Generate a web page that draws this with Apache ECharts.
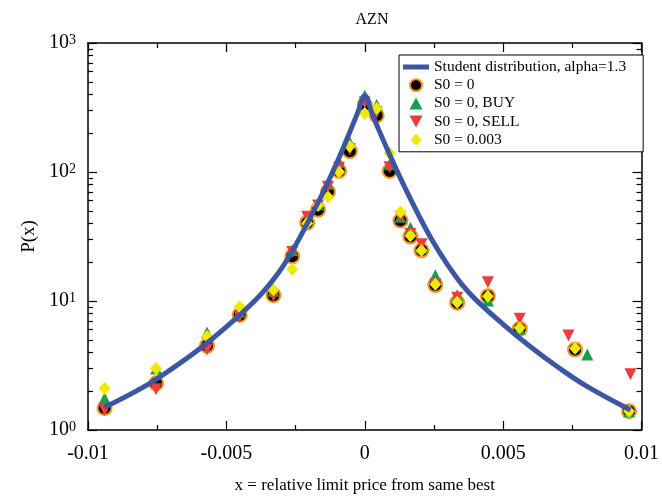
<!DOCTYPE html>
<html>
<head>
<meta charset="utf-8">
<script src="https://cdn.jsdelivr.net/npm/echarts@6/dist/echarts.min.js"></script>
<style>
  html, body { margin: 0; padding: 0; background: #fff; }
  #chart { width: 662px; height: 499px; }
</style>
</head>
<body>
<div id="chart"></div>
<script type="text/javascript">
    // Student distribution curve
    var curveX = [-0.0094, -0.008, -0.007, -0.006, -0.005, -0.004, -0.0035, -0.003, -0.0025, -0.002, -0.0015, -0.001, -0.0005, -0.00025, 0,
                  0.00025, 0.0005, 0.001, 0.0015, 0.002, 0.0025, 0.003, 0.0035, 0.004, 0.005, 0.006, 0.007, 0.008, 0.0096];
    var curveY = [1.5, 2.15, 2.95, 4.2, 6.3, 9.9, 13.0, 18, 27, 43, 70, 119, 214, 290, 390,
                  290, 214, 122, 72, 44, 28, 19, 13.5, 10.3, 6.6, 4.4, 3.05, 2.2, 1.43];

    // S0 = 0
    var allX  = [-0.0094, -0.00754, -0.0057, -0.00452, -0.0033, -0.00262, -0.00208, -0.00169, -0.00133, -0.00093, -0.00054, 0,
                 0.00043, 0.0009, 0.00129, 0.00165, 0.00205, 0.00255, 0.00334, 0.00445, 0.0056, 0.0076, 0.00955];
    var allY  = [1.48, 2.3, 4.5, 7.8, 11.1, 22.2, 40.5, 51, 70, 102, 145, 332,
                 275, 102, 42, 31.6, 24.7, 13.3, 9.7, 10.9, 6.1, 4.2, 1.40];
    // S0 = 0, BUY
    var buyX  = [-0.0094, -0.00754, -0.0057, -0.00452, -0.0033, -0.00262, -0.00208, -0.00169, -0.00133, -0.00093, -0.00054, 0,
                 0.00043, 0.0009, 0.00129, 0.00165, 0.00205, 0.00255, 0.00334, 0.00445, 0.0056, 0.00804, 0.00955];
    var buyY  = [1.76, 3.0, 5.7, 8.3, 12, 24.7, 43, 56, 81, 120, 170, 390,
                 330, 115, 45, 37, 26, 15.8, 11.1, 10.1, 6.1, 3.85, 1.4];
    // S0 = 0, SELL
    var sellX = [-0.0094, -0.00754, -0.0057, -0.00452, -0.0033, -0.00262, -0.00208, -0.00169, -0.00133, -0.00093, -0.00054, 0,
                 0.00043, 0.0009, 0.00129, 0.00165, 0.00205, 0.00255, 0.00334, 0.00445, 0.0056, 0.00736, 0.0096];
    var sellY = [1.43, 2.07, 4.2, 7.6, 11, 24, 45, 55, 77, 108, 150, 345,
                 290, 109, 45, 33, 27.5, 13.5, 10.6, 14, 7.3, 5.4, 2.7];
    // S0 = 0.003
    var s3X   = [-0.0094, -0.00754, -0.0057, -0.00452, -0.0033, -0.00262, -0.00208, -0.00169, -0.00133, -0.00093, -0.00054, 0,
                 0.00043, 0.0009, 0.00129, 0.00165, 0.00205, 0.00255, 0.00334, 0.00445, 0.0056, 0.0076, 0.00955];
    var s3Y   = [2.1, 3.0, 5.3, 9.0, 12.2, 17.6, 40, 55, 64, 100, 158, 284,
                 311, 140, 49, 32, 24.6, 13.5, 9.8, 10.9, 6.2, 4.3, 1.4];

    var xTickLabels = {'-0.01': '-0.01', '-0.005': '-0.005', '0': '0', '0.005': '0.005', '0.01': '0.01'};
    var yMinorTicks = [2, 3, 4, 5, 6, 7, 8, 9, 20, 30, 40, 50, 60, 70, 80, 90, 200, 300, 400, 500, 600, 700, 800, 900];

    function pairs(xs, ys) {
        var out = [];
        for (var i = 0; i < xs.length; i++) {
            out.push([xs[i], ys[i]]);
        }
        return out;
    }

    var FONT = '"Liberation Serif", "DejaVu Serif", serif';
    var BLACK = '#000';

    function logAxis(extra) {
        var ax = {
            type: 'log',
            logBase: 10,
            min: 1,
            max: 1000,
            axisLine: {show: true, onZero: false, lineStyle: {color: BLACK, width: 1.5}},
            axisTick: {show: true, inside: true, length: 9, lineStyle: {color: BLACK, width: 1.2}},
            axisLabel: {show: false},
            splitLine: {show: false}
        };
        for (var k in extra) ax[k] = extra[k];
        return ax;
    }

    var chart = echarts.init(document.getElementById('chart'));
    var option = {
        backgroundColor: '#fff',
        animation: false,
        title: {
            text: 'AZN',
            left: 367,
            top: 7,
            textAlign: 'center',
            textStyle: {fontFamily: FONT, fontSize: 16, fontWeight: 'normal', color: BLACK}
        },
        legend: {
            orient: 'vertical',
            left: 399,
            top: 55,
            itemWidth: 26,
            itemHeight: 12,
            itemGap: 2.2,
            symbolKeepAspect: true,
            padding: [4, 17, 4, 4],
            backgroundColor: '#fff',
            borderColor: BLACK,
            borderWidth: 1,
            textStyle: {fontFamily: FONT, fontSize: 15.5, color: BLACK},
            data: [
                {name: 'Student distribution, alpha=1.3', icon: 'path://M0,0 L26,0 L26,5 L0,5 Z'},
                {name: 'S0 = 0', icon: 'circle'},
                {name: 'S0 = 0, BUY', icon: 'path://M6,0 L12,11 L0,11 Z'},
                {name: 'S0 = 0, SELL', icon: 'path://M0,0 L12,0 L6,11 Z'},
                {name: 'S0 = 0.003', icon: 'path://M6,0 L12,6.5 L6,13 L0,6.5 Z'}
            ]
        },
        grid: {left: 88, right: 17, top: 43, bottom: 66},
        xAxis: [
            {
                type: 'value',
                min: -0.01,
                max: 0.01,
                interval: 0.005,
                name: 'x = relative limit price from same best',
                nameLocation: 'middle',
                nameGap: 47,
                nameTextStyle: {fontFamily: FONT, fontSize: 17, color: BLACK},
                axisLine: {show: true, onZero: false, lineStyle: {color: BLACK, width: 1.5}},
                axisTick: {show: true, inside: true, length: 9, lineStyle: {color: BLACK, width: 1.2}},
                minorTick: {show: true, splitNumber: 2, length: 5, lineStyle: {color: BLACK, width: 1.2}},
                axisLabel: {
                    margin: 14,
                    fontFamily: FONT, fontSize: 20, color: BLACK,
                    formatter: function (v) {
                        var k = String(Math.round(v * 1000) / 1000);
                        return xTickLabels[k] !== undefined ? xTickLabels[k] : k;
                    }
                },
                splitLine: {show: false}
            },
            {
                type: 'value',
                position: 'top',
                min: -0.01,
                max: 0.01,
                interval: 0.005,
                axisLine: {show: true, onZero: false, lineStyle: {color: BLACK, width: 1.5}},
                axisTick: {show: true, inside: true, length: 9, lineStyle: {color: BLACK, width: 1.2}},
                minorTick: {show: true, splitNumber: 2, length: 5, lineStyle: {color: BLACK, width: 1.2}},
                axisLabel: {show: false},
                splitLine: {show: false}
            }
        ],
        yAxis: [
            logAxis({
                position: 'left',
                name: 'P(x)',
                nameLocation: 'middle',
                nameGap: 41,
                nameRotate: 90,
                nameTextStyle: {fontFamily: FONT, fontSize: 19, color: BLACK},
                axisLabel: {
                    show: true,
                    margin: 12,
                    color: BLACK,
                    formatter: function (v) {
                        return '{b|10}{s|' + Math.round(Math.log10(v)) + '}';
                    },
                    rich: {
                        b: {fontFamily: FONT, fontSize: 20, color: BLACK, verticalAlign: 'bottom'},
                        s: {fontFamily: FONT, fontSize: 14, color: BLACK, verticalAlign: 'top'}
                    }
                }
            }),
            logAxis({
                position: 'left',
                axisLine: {show: false, onZero: false},
                axisTick: {show: true, inside: true, length: 5, customValues: yMinorTicks, lineStyle: {color: BLACK, width: 1.2}}
            }),
            logAxis({position: 'right'}),
            logAxis({
                position: 'right',
                axisLine: {show: false, onZero: false},
                axisTick: {show: true, inside: true, length: 5, customValues: yMinorTicks, lineStyle: {color: BLACK, width: 1.2}}
            })
        ],
        series: [
            {
                name: 'Student distribution, alpha=1.3',
                type: 'line',
                data: pairs(curveX, curveY),
                smooth: 0.4,
                symbol: 'none',
                lineStyle: {color: '#3c56a6', width: 5},
                itemStyle: {color: '#3c56a6'}
            },
            {
                name: 'S0 = 0',
                type: 'scatter',
                data: pairs(allX, allY),
                symbol: 'circle',
                symbolSize: 14,
                itemStyle: {color: BLACK, borderColor: '#f7941d', borderWidth: 2, opacity: 1}
            },
            {
                name: 'S0 = 0, BUY',
                type: 'scatter',
                data: pairs(buyX, buyY),
                symbol: 'triangle',
                symbolSize: 12,
                itemStyle: {color: '#17a04b', opacity: 1}
            },
            {
                name: 'S0 = 0, SELL',
                type: 'scatter',
                data: pairs(sellX, sellY),
                symbol: 'triangle',
                symbolRotate: 180,
                symbolSize: 12,
                itemStyle: {color: '#ef3b3b', opacity: 1}
            },
            {
                name: 'S0 = 0.003',
                type: 'scatter',
                data: pairs(s3X, s3Y),
                symbol: 'diamond',
                symbolSize: [12, 13],
                itemStyle: {color: '#eeea00', opacity: 1}
            }
        ]
    };
    chart.setOption(option);
</script>
</body>
</html>
